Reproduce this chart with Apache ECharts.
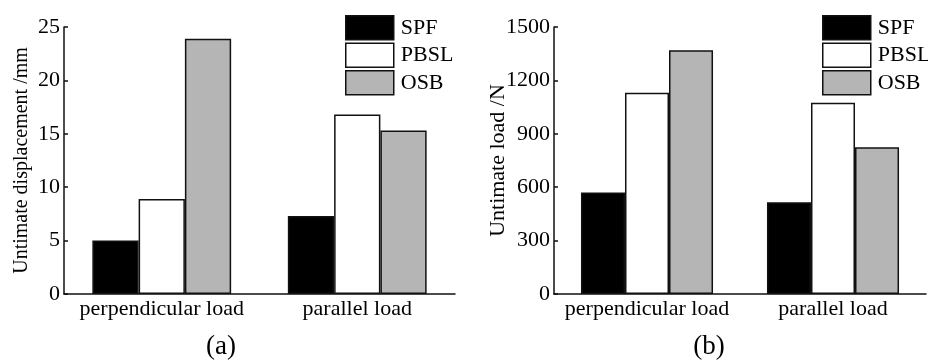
<!DOCTYPE html>
<html><head><meta charset="utf-8">
<script src="https://cdn.jsdelivr.net/npm/echarts@6/dist/echarts.min.js"></script>
<style>html,body{margin:0;padding:0;background:#fff}#c{width:928px;height:360px}</style>
</head><body><div id="c"></div>
<script>
const categories = ['perpendicular load', 'parallel load'];
const seriesNames = ['SPF', 'PBSL', 'OSB'];
const dispSPF = [5.0, 7.3];
const dispPBSL = [8.9, 16.8];
const dispOSB = [23.9, 15.3];
const loadSPF = [570, 515];
const loadPBSL = [1130, 1075];
const loadOSB = [1370, 825];
const colors = ['#000000', '#ffffff', '#b5b5b5'];
const FONT = 'Liberation Serif';

const chart = echarts.init(document.getElementById('c'), null, {renderer: 'canvas'});
const txt = {fontFamily: FONT, fontSize: 22, color: '#000'};
function yAx(idx, max, interval, name, gap, nameSize) {
  return {type: 'value', gridIndex: idx, min: 0, max: max, interval: interval,
    name: name, nameLocation: 'middle', nameGap: gap, nameMoveOverlap: false,
    nameTextStyle: Object.assign({}, txt, {fontSize: nameSize}),
    axisLine: {show: true, lineStyle: {color: '#111', width: 1.5}},
    axisTick: {show: true, inside: true, length: 4, lineStyle: {color: '#111', width: 1.5}},
    axisLabel: Object.assign({margin: 4, formatter: function (v) { return String(v); }}, txt),
    splitLine: {show: false}};
}
function xAx(idx) {
  return {type: 'category', gridIndex: idx, data: categories,
    axisLine: {show: true, lineStyle: {color: '#111', width: 1.5}},
    axisTick: {show: false}, axisLabel: Object.assign({margin: 4, interval: 0}, txt), splitLine: {show: false}};
}
function bar(name, data, ci, idx) {
  return {type: 'bar', name: name, data: data, xAxisIndex: idx, yAxisIndex: idx,
    barGap: '0%', barCategoryGap: '29%',
    itemStyle: {color: colors[ci], borderColor: '#111', borderWidth: 1.5}};
}
function legend(left) {
  return {orient: 'vertical', left: left, top: 10, itemWidth: 48, itemHeight: 24, itemGap: 2,
    icon: 'rect', data: seriesNames, textStyle: Object.assign({padding: [0, 0, 0, 2], lineHeight: 24}, txt),
    itemStyle: {borderColor: '#111', borderWidth: 1.5}};
}
chart.setOption({
  animation: false,
  backgroundColor: '#fff',
  grid: [
    {left: 64, right: 473, top: 27, bottom: 66},
    {left: 554, right: 2, top: 27, bottom: 66}
  ],
  xAxis: [xAx(0), xAx(1)],
  yAxis: [yAx(0, 25, 5, 'Untimate displacement /mm', 32, 20), yAx(1, 1500, 300, 'Untimate load /N', 45, 22)],
  legend: [legend(340), legend(817)],
  series: [
    bar(seriesNames[0], dispSPF, 0, 0), bar(seriesNames[1], dispPBSL, 1, 0), bar(seriesNames[2], dispOSB, 2, 0),
    bar(seriesNames[0], loadSPF, 0, 1), bar(seriesNames[1], loadPBSL, 1, 1), bar(seriesNames[2], loadOSB, 2, 1)
  ],
  graphic: [
    {type: 'text', x: 221, y: 333, style: {text: '(a)', font: '27px "Liberation Serif"', fill: '#000', textAlign: 'center'}},
    {type: 'text', x: 709, y: 333, style: {text: '(b)', font: '27px "Liberation Serif"', fill: '#000', textAlign: 'center'}}
  ]
});
</script></body></html>
